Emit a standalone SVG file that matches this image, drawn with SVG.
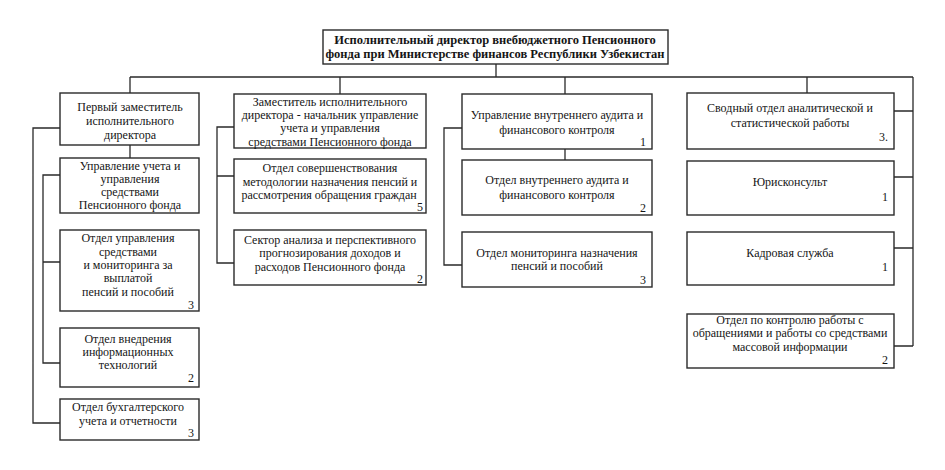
<svg xmlns="http://www.w3.org/2000/svg" width="945" height="470" viewBox="0 0 945 470">
<style>
.box{fill:#fff;stroke:#2a2a2a;stroke-width:1.4}
.t{font-family:"Liberation Serif","Times New Roman",serif;font-size:12px;fill:#151515;text-anchor:middle;dominant-baseline:central}
.b{font-weight:bold;font-size:12.5px}
.n{text-anchor:end}
.c{fill:none;stroke:#2a2a2a;stroke-width:1.3}
</style>
<rect width="945" height="470" fill="#fff"/>
<g id="connectors" class="c">
<path d="M496 64V77M130 77H913M130 77V93M340 77V94M565 77V94M807 77V93M913 77V346"/>
<path d="M130 145V158M60 128H33V423H60M60 175H43V363H60M43 262H60"/>
<path d="M234 127H217V263H234M217 176H234"/>
<path d="M462 128H444V265H462M565 149V160"/>
<path d="M894 111H913M894 177H913M894 248H913M894 346H913"/>
</g>
<g id="director">
<rect class="box" x="323" y="30" width="345" height="34"/>
<text class="t b" x="495" y="40">Исполнительный директор внебюджетного Пенсионного</text>
<text class="t b" x="495" y="54">фонда при Министерстве финансов Республики Узбекистан</text>
</g>
<g id="first-deputy">
<rect class="box" x="60" y="93" width="139" height="52"/>
<text class="t" x="130" y="107">Первый заместитель</text>
<text class="t" x="130" y="121">исполнительного</text>
<text class="t" x="130" y="135">директора</text>
</g>
<g id="acc-mgmt">
<rect class="box" x="60" y="158" width="139" height="55"/>
<text class="t" x="130" y="166">Управление учета и</text>
<text class="t" x="130" y="179">управления</text>
<text class="t" x="130" y="192">средствами</text>
<text class="t" x="130" y="205">Пенсионного фонда</text>
</g>
<g id="funds-dept">
<rect class="box" x="60" y="230" width="139" height="81"/>
<text class="t" x="128" y="238">Отдел управления</text>
<text class="t" x="128" y="252">средствами</text>
<text class="t" x="128" y="265">и мониторинга за</text>
<text class="t" x="128" y="278">выплатой</text>
<text class="t" x="128" y="292">пенсий и пособий</text>
<text class="t n" x="194" y="305">3</text>
</g>
<g id="it-dept">
<rect class="box" x="60" y="328" width="139" height="59"/>
<text class="t" x="128" y="339">Отдел внедрения</text>
<text class="t" x="128" y="352">информационных</text>
<text class="t" x="128" y="365">технологий</text>
<text class="t n" x="194" y="378">2</text>
</g>
<g id="accounting-dept">
<rect class="box" x="60" y="399" width="139" height="41"/>
<text class="t" x="128" y="407">Отдел бухгалтерского</text>
<text class="t" x="128" y="421">учета и отчетности</text>
<text class="t n" x="194" y="433">3</text>
</g>
<g id="deputy">
<rect class="box" x="234" y="94" width="192" height="54"/>
<text class="t" x="330" y="102">Заместитель исполнительного</text>
<text class="t" x="330" y="115">директора - начальник управление</text>
<text class="t" x="330" y="128">учета и управления</text>
<text class="t" x="330" y="142">средствами Пенсионного фонда</text>
</g>
<g id="method-dept">
<rect class="box" x="234" y="159" width="192" height="54"/>
<text class="t" x="330" y="168">Отдел совершенствования</text>
<text class="t" x="330" y="182">методологии назначения пенсий и</text>
<text class="t" x="329" y="195">рассмотрения обращения граждан</text>
<text class="t n" x="423" y="207">5</text>
</g>
<g id="analysis-sector">
<rect class="box" x="234" y="230" width="192" height="55"/>
<text class="t" x="330" y="240">Сектор анализа и перспективного</text>
<text class="t" x="330" y="253">прогнозирования доходов и</text>
<text class="t" x="330" y="267">расходов Пенсионного фонда</text>
<text class="t n" x="423" y="279">2</text>
</g>
<g id="audit-mgmt">
<rect class="box" x="462" y="94" width="190" height="55"/>
<text class="t" x="557" y="115">Управление внутреннего аудита и</text>
<text class="t" x="557" y="130">финансового контроля</text>
<text class="t n" x="646" y="142">1</text>
</g>
<g id="audit-dept">
<rect class="box" x="462" y="160" width="190" height="55"/>
<text class="t" x="557" y="180">Отдел внутреннего аудита и</text>
<text class="t" x="557" y="195">финансового контроля</text>
<text class="t n" x="646" y="208">2</text>
</g>
<g id="monitoring-dept">
<rect class="box" x="462" y="232" width="190" height="55"/>
<text class="t" x="557" y="253">Отдел мониторинга назначения</text>
<text class="t" x="557" y="266">пенсий и пособий</text>
<text class="t n" x="646" y="280">3</text>
</g>
<g id="analytics-dept">
<rect class="box" x="687" y="93" width="207" height="56"/>
<text class="t" x="790" y="108">Сводный отдел аналитической и</text>
<text class="t" x="790" y="123">статистической работы</text>
<text class="t n" x="888" y="137">3.</text>
</g>
<g id="legal">
<rect class="box" x="687" y="161" width="207" height="54"/>
<text class="t" x="790" y="182">Юрисконсульт</text>
<text class="t n" x="888" y="197">1</text>
</g>
<g id="hr">
<rect class="box" x="687" y="232" width="207" height="53"/>
<text class="t" x="790" y="253">Кадровая служба</text>
<text class="t n" x="888" y="267">1</text>
</g>
<g id="appeals-media">
<rect class="box" x="687" y="314" width="207" height="54"/>
<text class="t" x="790" y="320">Отдел по контролю работы с</text>
<text class="t" x="790" y="333">обращениями и работы со средствами</text>
<text class="t" x="790" y="347">массовой информации</text>
<text class="t n" x="888" y="360">2</text>
</g>
</svg>
